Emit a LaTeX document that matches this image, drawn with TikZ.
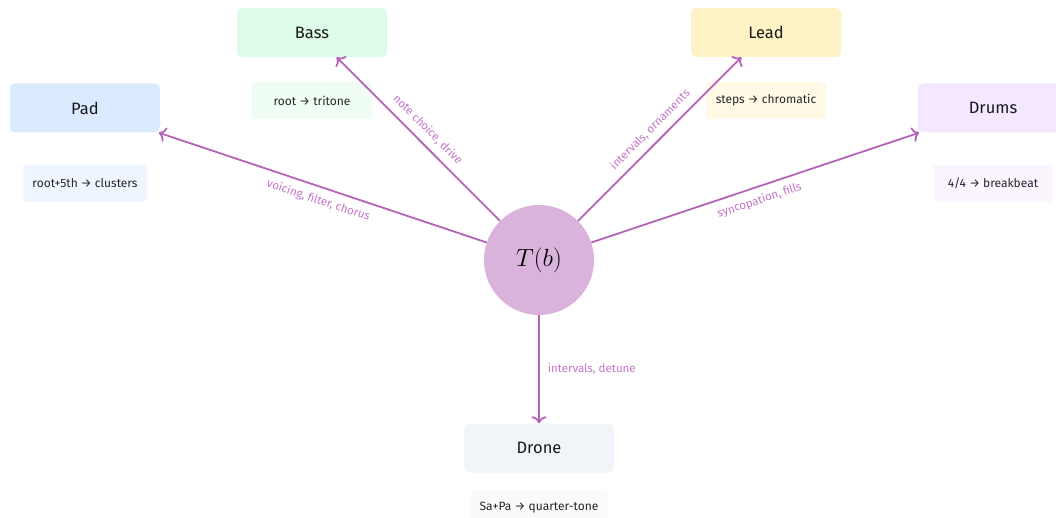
\documentclass[tikz,border=0pt]{standalone}
\usepackage{fontspec}
\setmainfont{Fira Sans}
\usetikzlibrary{arrows.meta}
\definecolor{edgec}{HTML}{B463B8}
\definecolor{elabc}{HTML}{C274C6}
\definecolor{hubc}{HTML}{D9B3DB}
\definecolor{bassc}{HTML}{DCFCE7}
\definecolor{bassn}{HTML}{F0FDF4}
\definecolor{leadc}{HTML}{FEF3C7}
\definecolor{leadn}{HTML}{FFF9E6}
\definecolor{padc}{HTML}{DBEAFE}
\definecolor{padn}{HTML}{EFF6FF}
\definecolor{drumc}{HTML}{F3E8FF}
\definecolor{drumn}{HTML}{FAF5FF}
\definecolor{dronec}{HTML}{F1F5F9}
\definecolor{dronen}{HTML}{F8FAFC}
\tikzset{
  hub/.style={circle, fill=hubc, minimum size=110pt, inner sep=0pt,
    font=\fontsize{24}{28}\selectfont},
  inst/.style={rounded corners=5pt, minimum width=150pt, minimum height=49pt,
    inner sep=0pt, text=black!90, font=\fontsize{16.5}{19}\selectfont},
  notebox/.style={rounded corners=3pt, minimum width=120pt, minimum height=37pt,
    inner xsep=9pt, inner ysep=0pt, text=black!85, font=\fontsize{12}{14}\selectfont},
  link/.style={draw=edgec, line width=1.8pt,
    -{Computer Modern Rightarrow[length=7pt,width=15pt,line cap=round]}},
  elab/.style={text=elabc, font=\fontsize{11.5}{13}\selectfont, inner sep=3pt}
}
\begin{document}
\begin{tikzpicture}[x=1pt,y=-1pt]
\useasboundingbox (0,0) rectangle (1056,518);
% central transformation
\node[hub] (t) at (539,260) {$T(b)$};
% instruments
\node[inst, fill=bassc] (bass) at (312,32.5) {Bass};
\node[inst, fill=leadc] (lead) at (766,32.5) {Lead};
\node[inst, fill=padc] (pad) at (85,108) {Pad};
\node[inst, fill=drumc] (drums) at (993,108) {Drums};
\node[inst, fill=dronec] (drone) at (539,448) {Drone};
% range notes
\node[notebox, fill=bassn] (bassnote) at (312,100.5) {root → tritone};
\node[notebox, fill=leadn] (leadnote) at (766,100.5) {steps → chromatic};
\node[notebox, fill=padn] (padnote) at (85,183.5) {root+5th → clusters};
\node[notebox, fill=drumn] (drumnote) at (993,183.5) {4/4 → breakbeat};
\node[notebox, fill=dronen] (dronenote) at (539,508) {Sa+Pa → quarter-tone};
% mappings
\draw[link] (t) -- node[elab, sloped, above=4pt] {note choice, drive} (bass);
\draw[link] (t) -- node[elab, sloped, above=4pt] {intervals, ornaments} (lead);
\draw[link] (t) -- node[elab, sloped, below=4pt] {voicing, filter, chorus} (pad);
\draw[link] (t) -- node[elab, sloped, below=4pt] {syncopation, fills} (drums);
\draw[link] (t) -- node[elab, right=5pt] {intervals, detune} (drone);
\end{tikzpicture}
\end{document}
